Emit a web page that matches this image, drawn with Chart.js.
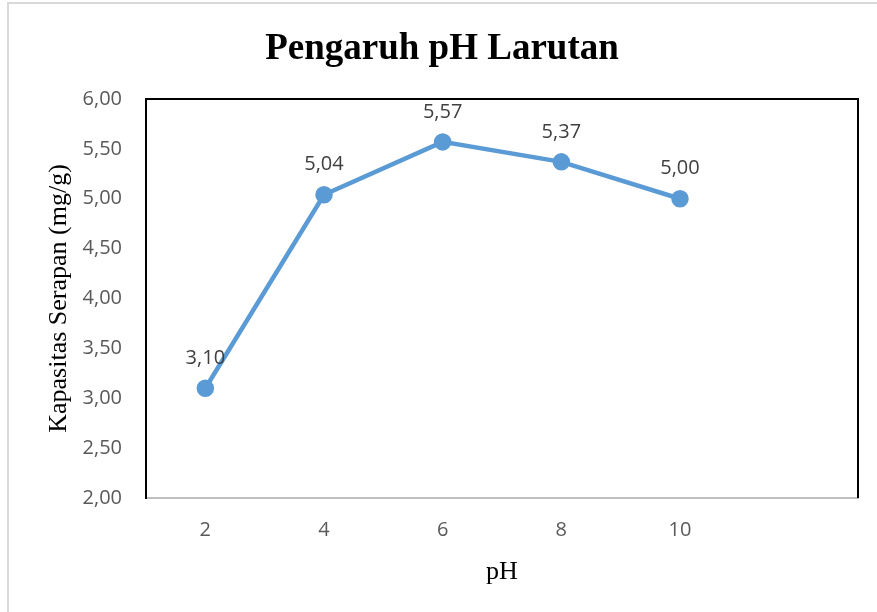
<!DOCTYPE html>
<html>
<head>
<meta charset="utf-8">
<script src="https://cdn.jsdelivr.net/npm/chart.js@4/dist/chart.umd.min.js"></script>
<style>
  html, body { margin: 0; padding: 0; background: #fff; }
  #wrap { position: relative; width: 877px; height: 612px; }
  #frame { position: absolute; left: 7px; top: 2px; right: -10px; bottom: -10px;
           border-top: 2px solid #d9d9d9; border-left: 2px solid #d9d9d9; }
  canvas { position: absolute; left: 0; top: 0; }
</style>
</head>
<body>
<div id="wrap">
  <div id="frame"></div>
  <canvas id="my-chart" width="877" height="612"></canvas>
</div>
<script>
// categories on the x axis (last one is empty, as in the original sheet)
var phLabels = ['2', '4', '6', '8', '10', ''];
// adsorption capacity (mg/g)
var kapasitas = [3.10, 5.04, 5.57, 5.37, 5.00];
var yTicks = [2.0, 2.5, 3.0, 3.5, 4.0, 4.5, 5.0, 5.5, 6.0];
var judul = 'Pengaruh pH Larutan';

function koma(v) {
    return Number(v).toFixed(2).replace('.', ',');
}

// title, value labels above each point, black frame on top/right of plot
var extras = {
    id: 'extras',
    afterDatasetsDraw: function (chart) {
        var ctx = chart.ctx;
        var a = chart.chartArea;
        ctx.save();
        ctx.strokeStyle = '#000';
        ctx.lineWidth = 2;
        ctx.beginPath();
        ctx.moveTo(a.left, a.top);
        ctx.lineTo(a.right, a.top);
        ctx.lineTo(a.right, a.bottom);
        ctx.stroke();

        ctx.fillStyle = '#404040';
        ctx.font = '20px "Open Sans"';
        ctx.textAlign = 'center';
        ctx.textBaseline = 'middle';
        var meta = chart.getDatasetMeta(0);
        meta.data.forEach(function (pt, i) {
            ctx.fillText(koma(kapasitas[i]), pt.x, pt.y - 30);
        });

        ctx.fillStyle = '#000';
        ctx.font = 'bold 37px "Liberation Serif"';
        ctx.textBaseline = 'alphabetic';
        ctx.fillText(judul, (chart.width + 7) / 2, 59);
        ctx.restore();
    }
};

var ctx = document.getElementById('my-chart').getContext('2d');
new Chart(ctx, {
    type: 'line',
    data: {
        labels: phLabels,
        datasets: [{
            label: 'Kapasitas Serapan',
            data: kapasitas,
            borderColor: '#5b9bd5',
            backgroundColor: '#5b9bd5',
            borderWidth: 4.5,
            pointRadius: 6.5,
            pointHoverRadius: 6.5,
            tension: 0
        }]
    },
    options: {
        responsive: false,
        animation: false,
        layout: { padding: { left: 0, right: 19, top: 99, bottom: 0 } },
        plugins: {
            legend: { display: false },
            tooltip: { enabled: false },
            title: { display: false }
        },
        scales: {
            x: {
                offset: true,
                grid: { display: false, drawTicks: false },
                border: { color: '#bfbfbf', width: 2 },
                ticks: {
                    color: '#595959',
                    font: { family: '"Open Sans"', size: 20 },
                    padding: 20,
                    maxRotation: 0,
                    autoSkip: false
                },
                title: {
                    display: true,
                    text: 'pH',
                    color: '#000',
                    font: { family: '"Liberation Serif"', size: 26, lineHeight: 1.2 },
                    padding: { top: 0, bottom: 24 }
                },
                afterFit: function (s) { s.height = 114; }
            },
            y: {
                min: 2,
                max: 6,
                afterBuildTicks: function (s) {
                    s.ticks = yTicks.map(function (v) { return { value: v }; });
                },
                grid: { display: false, drawTicks: false },
                border: { color: '#000', width: 2 },
                ticks: {
                    color: '#595959',
                    font: { family: '"Open Sans"', size: 20 },
                    padding: 24,
                    callback: function (v) { return koma(v); }
                },
                title: {
                    display: true,
                    text: 'Kapasitas Serapan (mg/g)',
                    color: '#000',
                    font: { family: '"Liberation Serif"', size: 26, lineHeight: 1.2 },
                    padding: { top: 44, bottom: 0 }
                },
                afterFit: function (s) { s.width = 146; }
            }
        }
    },
    plugins: [extras]
});
</script>
</body>
</html>
